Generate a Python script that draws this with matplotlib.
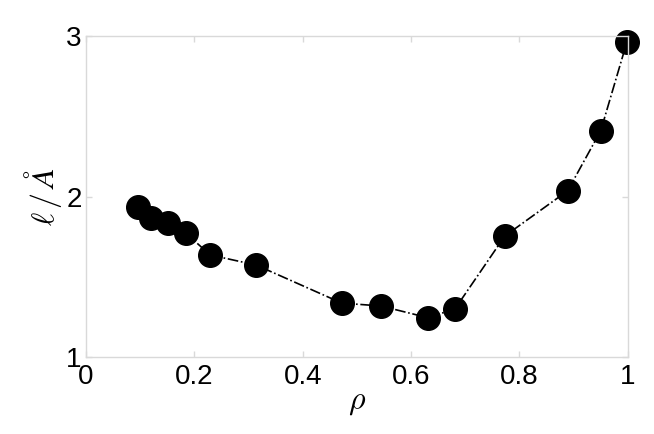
import matplotlib.pyplot as plt
import numpy as np

rho = [0.096, 0.120, 0.151, 0.185, 0.229, 0.314, 0.472, 0.544,
       0.631, 0.681, 0.773, 0.889, 0.950, 0.998]
ell = [1.933, 1.864, 1.837, 1.770, 1.636, 1.573, 1.336, 1.318,
       1.245, 1.300, 1.754, 2.036, 2.410, 2.960]

xticks = [0, 0.2, 0.4, 0.6, 0.8, 1]
xticklabels = ['0', '0.2', '0.4', '0.6', '0.8', '1']
yticks = [1, 2, 3]

plt.rcParams['font.family'] = ['Liberation Sans', 'DejaVu Sans']
plt.rcParams['mathtext.fontset'] = 'cm'

fig = plt.figure(figsize=(6.54, 4.34), dpi=100)
ax = fig.add_axes([0.1315, 0.1774, 0.8285, 0.7396])

ax.plot(rho, ell, '-.', color='black', lw=1.2,
        marker='o', markersize=17, markerfacecolor='black',
        markeredgecolor='black', clip_on=False)

ax.set_xlim(0, 1)
ax.set_ylim(1, 3)
ax.set_xticks(xticks)
ax.set_xticklabels(xticklabels)
ax.set_yticks(yticks)

gray = '#d9d9d9'
for s in ax.spines.values():
    s.set_color(gray)
    s.set_linewidth(1.0)
ax.tick_params(direction='in', length=4, width=1, color=gray,
               top=True, right=True, labelsize=20)
ax.tick_params(axis='x', pad=5)
ax.tick_params(axis='y', pad=3)

ax.set_xlabel(r'$\rho$', fontsize=23, labelpad=-2)
ax.set_ylabel(r'$\ell\,/\,\AA$', fontsize=23, labelpad=2)

fig.savefig('out.png', dpi=100)
